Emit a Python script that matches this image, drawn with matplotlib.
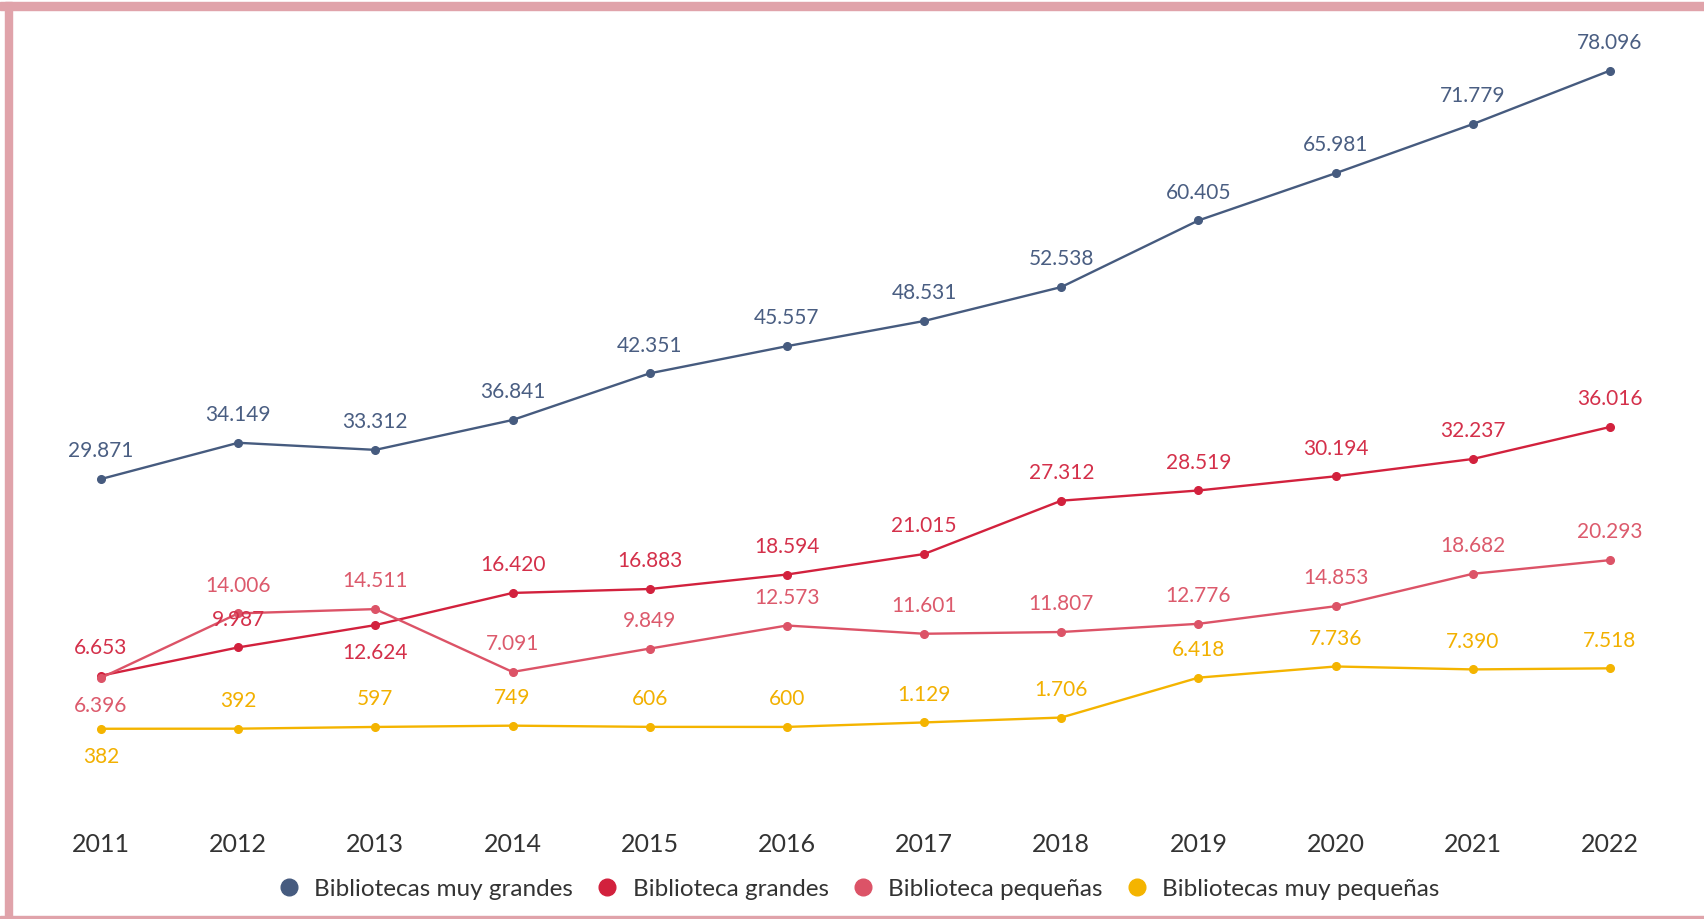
import matplotlib
matplotlib.use("Agg")
import matplotlib.pyplot as plt
from matplotlib.lines import Line2D
from matplotlib.patches import Rectangle

years = [2011, 2012, 2013, 2014, 2015, 2016, 2017, 2018, 2019, 2020, 2021, 2022]
muy_grandes = [29871, 34149, 33312, 36841, 42351, 45557, 48531, 52538, 60405, 65981, 71779, 78096]
grandes = [6653, 9987, 12624, 16420, 16883, 18594, 21015, 27312, 28519, 30194, 32237, 36016]
pequenas = [6396, 14006, 14511, 7091, 9849, 12573, 11601, 11807, 12776, 14853, 18682, 20293]
muy_pequenas = [382, 392, 597, 749, 606, 600, 1129, 1706, 6418, 7736, 7390, 7518]
series_names = ["Bibliotecas muy grandes", "Biblioteca grandes",
                "Biblioteca pequeñas", "Bibliotecas muy pequeñas"]

colors = ["#465b7f", "#d2213d", "#dc5367", "#f4b400"]
label_colors = ["#4a5e82", "#d4304a", "#dc5a6c", "#f2b000"]
below = [set(), {2}, {0}, {0}]

plt.rcParams['font.family'] = ['Lato', 'DejaVu Sans']

W, H = 1704, 919
fig = plt.figure(figsize=(W / 100, H / 100), dpi=100)
ax = fig.add_axes([0, 0, 1, 1])
ax.set_facecolor('none')

# pixel mapping
x0px, x1px = 101, 1610
pxyr = (x1px - x0px) / 11
ax.set_xlim(2011 - x0px / pxyr, 2022 + (W - x1px) / pxyr)
zero_from_bottom = H - 732
top_from_bottom = H - 70.6
sc = (top_from_bottom - zero_from_bottom) / 78096
ax.set_ylim(-zero_from_bottom / sc, (H - zero_from_bottom) / sc)
ax.axis('off')

def fmt(v):
    return f"{v:,}".replace(",", ".")

all_series = [muy_grandes, grandes, pequenas, muy_pequenas]
for i, (vals, c) in enumerate(zip(all_series, colors)):
    ax.plot(years, vals, color=c, lw=1.7, marker='o', ms=5.5, zorder=3)
    for j, (x, v) in enumerate(zip(years, vals)):
        off = -20 if j in below[i] else 20
        ax.annotate(fmt(v), (x, v), xytext=(0, off), textcoords='offset points',
                    ha='center', va='center', fontsize=15, color=label_colors[i], zorder=4)

# year labels
year_y = ((H - 845) - zero_from_bottom) / sc
for x in years:
    ax.text(x, year_y, str(x), ha='center', va='center',
            fontsize=18, color='#333333')

handles = [Line2D([], [], marker='o', ls='none', color=c, ms=12) for c in colors]
fig.legend(handles, series_names, loc='center', bbox_to_anchor=(0.5, (H - 889) / H),
           ncol=4, frameon=False, fontsize=17.5, handletextpad=0.05, columnspacing=0.4,
           labelcolor='#333333')

border = '#e0a3aa'
fig.patches.append(Rectangle((0, (H - 10) / H), 1, 8 / H, transform=fig.transFigure,
                             color=border, zorder=10))
fig.patches.append(Rectangle((5 / W, 0), 7 / W, (H - 2) / H, transform=fig.transFigure,
                             color=border, zorder=10))
fig.patches.append(Rectangle((0, 0), 1, 3 / H, transform=fig.transFigure,
                             color=border, zorder=10))

fig.savefig('out.png', dpi=100, facecolor='white')
